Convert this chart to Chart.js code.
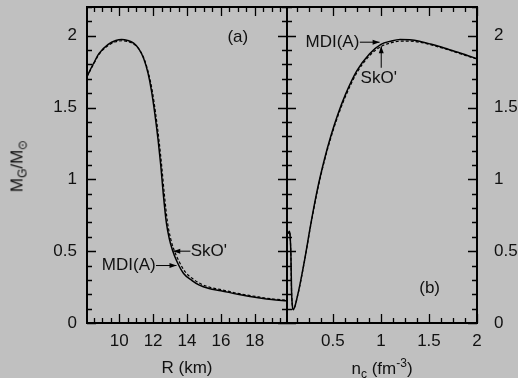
<!DOCTYPE html>
<html>
<head>
<meta charset="utf-8">
<script src="https://cdn.jsdelivr.net/npm/chart.js@4.4.1/dist/chart.umd.min.js"></script>
<style>
  html, body { margin: 0; padding: 0; background: #c0c0c0; }
  #wrap { position: relative; width: 518px; height: 378px; overflow: hidden; font-family: "Liberation Sans", Arial, sans-serif; color: #111; }
  canvas { position: absolute; left: 0; top: 0; }
  .ttl { position: absolute; font-size: 17px; white-space: nowrap; line-height: 1; transform: translate(-50%, -50%); }
  .ttl sub, .ttl sup { font-size: 12px; line-height: 0; }
</style>
</head>
<body>
<div id="wrap">
  <canvas id="left" width="518" height="378"></canvas>
  <canvas id="right" width="518" height="378"></canvas>
  <div class="ttl" style="left:187px; top:367px;">R (km)</div>
  <div class="ttl" style="left:382px; top:368px;">n<sub>c</sub> (fm<sup>-3</sup>)</div>
  <div class="ttl" style="left:17px; top:166px; transform: translate(-50%, -50%) rotate(-90deg);">M<sub>G</sub>/M<sub>&#x2299;</sub></div>
</div>
<script>
// panel (a): mass vs radius
const radiusMdi = [8.1, 8.5, 8.8, 9.35, 9.8, 10.15, 10.5, 10.85, 11.15, 11.45, 11.7, 11.9, 12.1, 12.3, 12.45, 12.6, 12.78, 12.95, 13.15, 13.4, 13.8, 14.3, 14.7, 15.3, 16.0, 17.0, 18.3, 19.0, 19.9];
const massMdiR  = [1.718, 1.81, 1.875, 1.94, 1.967, 1.974, 1.967, 1.948, 1.91, 1.84, 1.74, 1.62, 1.46, 1.27, 1.10, 0.90, 0.70, 0.59, 0.505, 0.43, 0.345, 0.295, 0.265, 0.24, 0.225, 0.20, 0.174, 0.163, 0.155];
const radiusSko = [8.1, 8.5, 8.8, 9.35, 9.8, 10.2, 10.55, 10.9, 11.2, 11.5, 11.75, 11.96, 12.16, 12.36, 12.51, 12.66, 12.85, 13.02, 13.23, 13.5, 13.9, 14.4, 14.8, 15.4, 16.1, 17.0, 18.3, 19.0, 19.9];
const massSkoR  = [1.715, 1.805, 1.868, 1.932, 1.958, 1.965, 1.958, 1.938, 1.90, 1.83, 1.73, 1.61, 1.45, 1.26, 1.09, 0.90, 0.70, 0.595, 0.51, 0.437, 0.355, 0.303, 0.273, 0.247, 0.23, 0.206, 0.18, 0.168, 0.159];

// panel (b): mass vs central density
const density  = [0.024, 0.04, 0.047, 0.055, 0.063, 0.069, 0.078, 0.087, 0.13, 0.2, 0.27, 0.34, 0.41, 0.48, 0.55, 0.63, 0.75, 0.88, 1.0, 1.1, 1.2, 1.3, 1.4, 1.5, 1.6, 1.7, 1.8, 1.9, 2.0];
const massMdiN = [0.62, 0.63, 0.638, 0.60, 0.464, 0.232, 0.12, 0.093, 0.185, 0.42, 0.69, 0.935, 1.135, 1.305, 1.45, 1.59, 1.757, 1.873, 1.94, 1.962, 1.974, 1.972, 1.962, 1.945, 1.927, 1.906, 1.885, 1.862, 1.84];
const massSkoN = [0.62, 0.63, 0.638, 0.60, 0.464, 0.232, 0.12, 0.093, 0.183, 0.415, 0.683, 0.925, 1.125, 1.293, 1.437, 1.576, 1.743, 1.86, 1.925, 1.95, 1.962, 1.962, 1.955, 1.94, 1.922, 1.902, 1.88, 1.858, 1.838];

const leftXTicks = [10, 12, 14, 16, 18];
const rightXTicks = [0.5, 1, 1.5, 2];
const yTicks = [0, 0.5, 1, 1.5, 2];

const FONT = { family: '"Liberation Sans", Arial, sans-serif', size: 17 };
const INK = '#111';

function pts(xs, ys) { return xs.map((x, i) => ({ x: x, y: ys[i] })); }

// frame + inward ticks on all four sides
const frameTicks = {
  id: 'frameTicks',
  afterDatasetsDraw(chart, args, o) {
    const { ctx, chartArea: a, scales: { x, y } } = chart;
    ctx.save();
    ctx.strokeStyle = '#000';
    ctx.lineWidth = 1.3;
    function run(min, max, step, fn) {
      const n0 = Math.ceil(min / step - 1e-6), n1 = Math.floor(max / step + 1e-6);
      for (let n = n0; n <= n1; n++) fn(n * step);
    }
    run(x.min, x.max, o.xMinor, v => {
      const px = Math.round(x.getPixelForValue(v)) + 0.5;
      const major = Math.abs(v / o.xMajor - Math.round(v / o.xMajor)) < 1e-6;
      const len = major ? 9 : 5;
      ctx.beginPath();
      ctx.moveTo(px, a.bottom); ctx.lineTo(px, a.bottom - len);
      ctx.moveTo(px, a.top); ctx.lineTo(px, a.top + len);
      ctx.stroke();
    });
    run(y.min, y.max, 0.1, v => {
      const py = Math.round(y.getPixelForValue(v)) + 0.5;
      const major = Math.abs(v / 0.5 - Math.round(v / 0.5)) < 1e-6;
      const len = major ? 9 : 5;
      ctx.beginPath();
      ctx.moveTo(a.left, py); ctx.lineTo(a.left + len, py);
      ctx.moveTo(a.right, py); ctx.lineTo(a.right - len, py);
      ctx.stroke();
    });
    ctx.lineWidth = 2;
    ctx.strokeRect(a.left, a.top, a.right - a.left, a.bottom - a.top);
    ctx.restore();
  }
};

// labels with arrows, positioned in data units
const notes = {
  id: 'notes',
  afterDraw(chart, args, o) {
    const { ctx, scales: { x, y } } = chart;
    ctx.save();
    ctx.fillStyle = INK;
    ctx.strokeStyle = '#000';
    ctx.lineWidth = 1;
    ctx.font = FONT.size + 'px ' + FONT.family;
    ctx.textBaseline = 'middle';
    (o.items || []).forEach(it => {
      ctx.textAlign = it.align || 'center';
      ctx.fillText(it.text, x.getPixelForValue(it.x), y.getPixelForValue(it.y));
      if (it.arrow) {
        const [x0, y0, x1, y1] = it.arrow;
        const ax = x.getPixelForValue(x0), ay = y.getPixelForValue(y0);
        const bx = x.getPixelForValue(x1), by = y.getPixelForValue(y1);
        const ang = Math.atan2(by - ay, bx - ax);
        ctx.beginPath(); ctx.moveTo(ax, ay); ctx.lineTo(bx, by); ctx.stroke();
        ctx.beginPath();
        ctx.moveTo(bx, by);
        ctx.lineTo(bx - 7 * Math.cos(ang) + 2.5 * Math.sin(ang), by - 7 * Math.sin(ang) - 2.5 * Math.cos(ang));
        ctx.lineTo(bx - 7 * Math.cos(ang) - 2.5 * Math.sin(ang), by - 7 * Math.sin(ang) + 2.5 * Math.cos(ang));
        ctx.closePath();
        ctx.fillStyle = '#000';
        ctx.fill();
        ctx.fillStyle = INK;
      }
    });
    ctx.restore();
  }
};

function series(label, data, dashed) {
  return {
    label: label,
    data: data,
    borderColor: '#000',
    borderWidth: dashed ? 1.2 : 1.5,
    borderDash: dashed ? [3, 2] : [],
    pointRadius: 0,
    fill: false,
    cubicInterpolationMode: 'monotone'
  };
}

function noPad(s) { s.paddingTop = 0; s.paddingBottom = 0; s.paddingLeft = 0; s.paddingRight = 0; }

function yScale(pos, width, pad) {
  return {
    type: 'linear', position: pos, min: 0, max: 2.2,
    grid: { display: false, drawTicks: false }, border: { display: false },
    afterBuildTicks: s => { s.ticks = yTicks.map(v => ({ value: v })); },
    afterFit: s => { s.width = width; noPad(s); },
    ticks: { font: FONT, color: INK, padding: pad, callback: v => String(v) }
  };
}

function xScale(min, max, list) {
  return {
    type: 'linear', min: min, max: max,
    grid: { display: false, drawTicks: false }, border: { display: false },
    afterBuildTicks: s => { s.ticks = list.map(v => ({ value: v })); },
    afterFit: s => { s.height = 55; noPad(s); },
    ticks: { font: FONT, color: INK, padding: 8, maxRotation: 0, callback: v => String(v) }
  };
}

new Chart(document.getElementById('left'), {
  type: 'line',
  data: { datasets: [
    series('MDI(A)', pts(radiusMdi, massMdiR), false),
    series("SkO'", pts(radiusSko, massSkoR), true)
  ] },
  options: {
    animation: false, responsive: false,
    layout: { padding: { left: 0, right: 231, top: 7, bottom: 0 } },
    scales: { x: xScale(8.1, 19.9, leftXTicks), y: yScale('left', 87, 10) },
    plugins: {
      legend: { display: false }, tooltip: { enabled: false },
      frameTicks: { xMajor: 2, xMinor: 0.5 },
      notes: { items: [
        { text: '(a)', x: 17.0, y: 1.99 },
        { text: 'MDI(A)', x: 12.15, y: 0.40, align: 'right', arrow: [12.17, 0.40, 13.38, 0.40] },
        { text: "SkO'", x: 14.22, y: 0.50, align: 'left', arrow: [14.2, 0.50, 13.19, 0.50] }
      ] }
    }
  },
  plugins: [frameTicks, notes]
});

new Chart(document.getElementById('right'), {
  type: 'line',
  data: { datasets: [
    series('MDI(A)', pts(density, massMdiN), false),
    series("SkO'", pts(density, massSkoN), true)
  ] },
  options: {
    animation: false, responsive: false,
    layout: { padding: { left: 287, right: 0, top: 7, bottom: 0 } },
    scales: { x: xScale(0.022, 2, rightXTicks), y: yScale('right', 41, 17) },
    plugins: {
      legend: { display: false }, tooltip: { enabled: false },
      frameTicks: { xMajor: 0.5, xMinor: 0.125 },
      notes: { items: [
        { text: '(b)', x: 1.507, y: 0.24 },
        { text: 'MDI(A)', x: 0.775, y: 1.955, align: 'right', arrow: [0.78, 1.955, 0.986, 1.955] },
        { text: "SkO'", x: 0.977, y: 1.707, arrow: [1.003, 1.777, 1.003, 1.927] }
      ] }
    }
  },
  plugins: [frameTicks, notes]
});
</script>
</body>
</html>
